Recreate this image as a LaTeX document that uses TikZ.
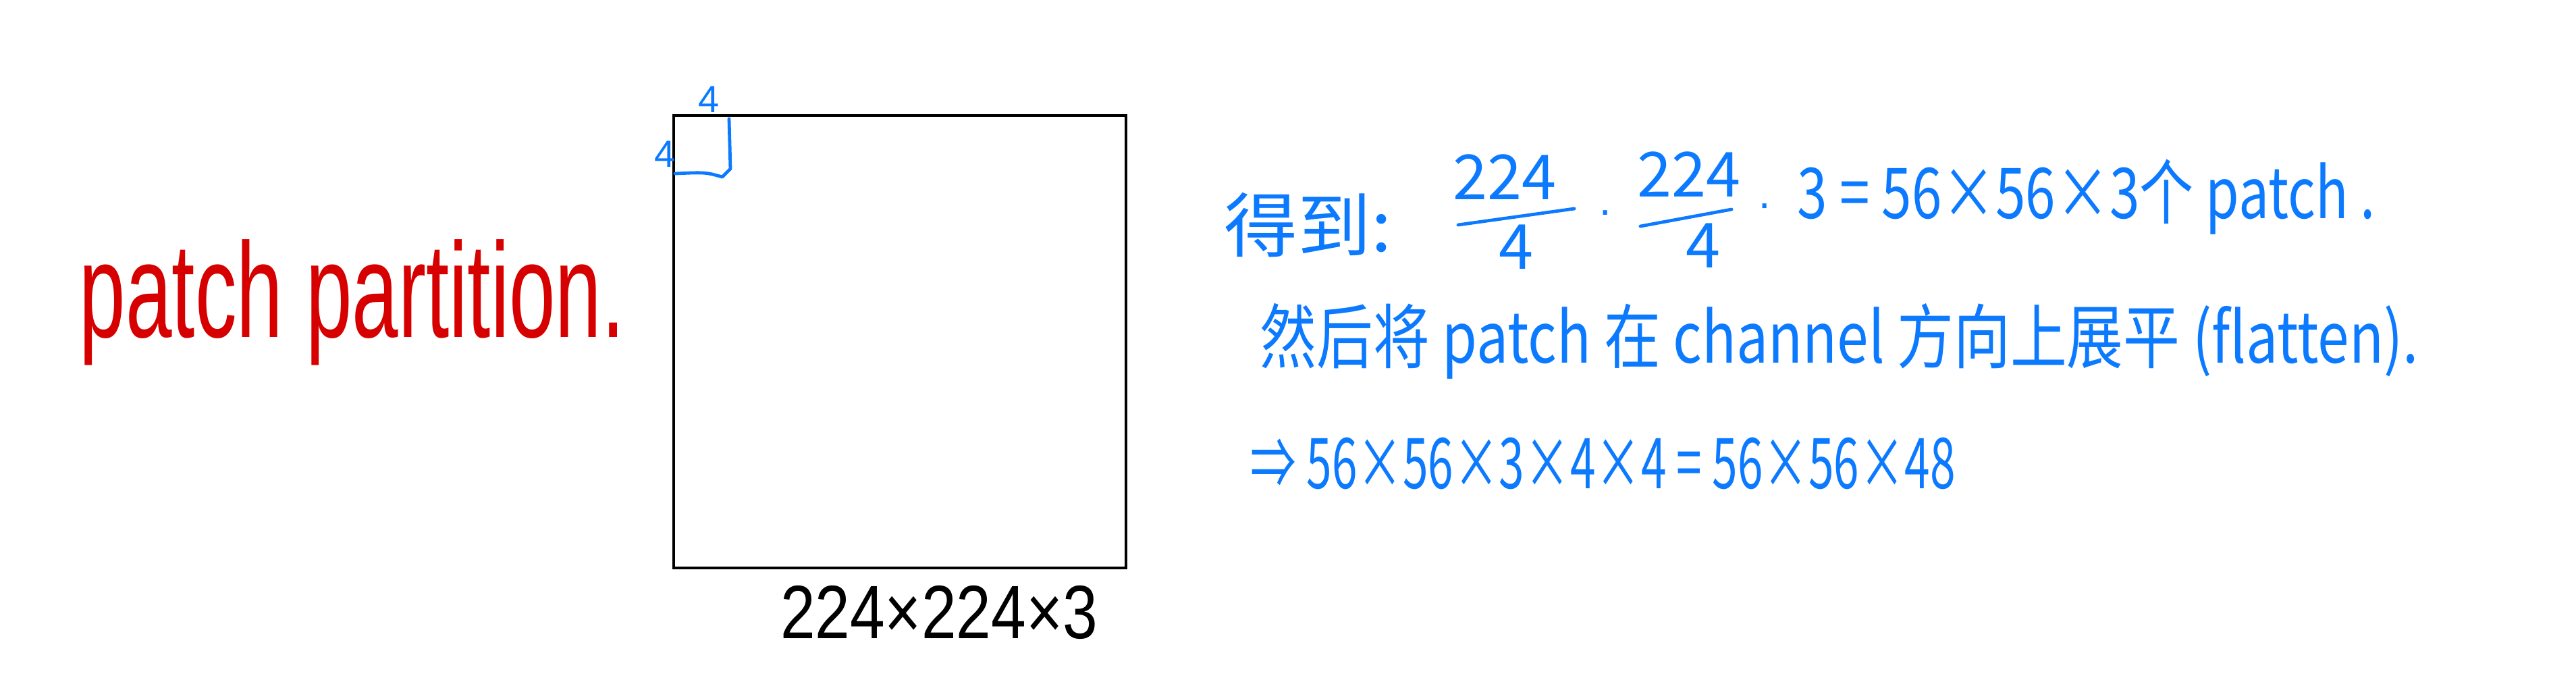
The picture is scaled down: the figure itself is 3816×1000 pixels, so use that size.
\documentclass[tikz,border=0pt]{standalone}
\usepackage{graphicx}
\usepackage{fontspec}
\setmainfont{Liberation Sans}
\newfontfamily\cjkfont{Noto Sans CJK SC}
\definecolor{penred}{RGB}{214,0,0}
\definecolor{penblue}{RGB}{12,122,255}
\newcommand{\fitw}[2]{\resizebox{#1}{\height}{#2}}
\begin{document}
\begin{tikzpicture}[x=0.25pt,y=-0.25pt,
  redtxt/.style={text=penred,inner sep=0pt,font=\fontsize{50}{60}\selectfont},
  blacktxt/.style={text=black,inner sep=0pt,font=\fontsize{28}{34}\selectfont},
  bluesmall/.style={text=penblue,inner sep=0pt,font=\fontsize{14}{17}\selectfont},
  bluetxt/.style={text=penblue,inner sep=0pt,font=\cjkfont\fontsize{26}{32}\selectfont},
  fractxt/.style={text=penblue,inner sep=0pt,font=\cjkfont\fontsize{23}{28}\selectfont},
  dottxt/.style={text=penblue,inner sep=0pt,font=\fontsize{16}{19}\selectfont},
  bluestroke/.style={draw=penblue,line width=1.2pt,line cap=round,line join=round},
  imgbox/.style={draw=black,line width=1.1pt,minimum width=167.5pt,minimum height=167.5pt,inner sep=0pt}
]
\useasboundingbox[fill=white] (0,0) rectangle (3816,1000);

% left label
\node[redtxt,anchor=base west] (pp) at (117,499) {\fitw{202pt}{patch partition.}};

% image square
\node[imgbox] (img) at (1333,506) {};
\node[blacktxt,anchor=base] (dims) at (1391,945) {\fitw{117.5pt}{224×224×3}};

% small patch
\coordinate (pa) at (1080,176);
\coordinate (pb) at (1082,250);
\coordinate (pc) at (1070,262);
\coordinate (pd) at (1000,257);
\draw[bluestroke] (pa) -- (pb) -- (pc) .. controls (1045,255) .. (pd);
\node[bluesmall] (ptop) at (1050,147) {4};
\node[bluesmall] (pleft) at (985,228) {4};

% line 1
\node[bluetxt,anchor=west] (got) at (1813,333) {\fitw{62pt}{得到:}};
\node[fractxt] (num1) at (2229,262) {224};
\node[fractxt] (den1) at (2246,366) {4};
\coordinate (b1a) at (2160,333);
\coordinate (b1b) at (2332,309);
\draw[bluestroke] (b1a) -- (b1b);
\node[dottxt] (dot1) at (2378,322) {·};
\node[fractxt] (num2) at (2502,258) {224};
\node[fractxt] (den2) at (2523,364) {4};
\coordinate (b2a) at (2430,335);
\coordinate (b2b) at (2565,310);
\draw[bluestroke] (b2a) -- (b2b);
\node[dottxt] (dot2) at (2614,312) {·};
\node[bluetxt,anchor=west] (res1) at (2662,292) {\fitw{214pt}{3 = 56×56×3个 patch .}};

% line 2
\node[bluetxt,anchor=west] (line2) at (1866,505) {\fitw{429pt}{然后将 patch 在 channel 方向上展平 (flatten).}};

% line 3
\node[bluetxt,anchor=west] (line3) at (1852,686) {\fitw{261pt}{⇒ 56×56×3×4×4 = 56×56×48}};
\end{tikzpicture}
\end{document}
